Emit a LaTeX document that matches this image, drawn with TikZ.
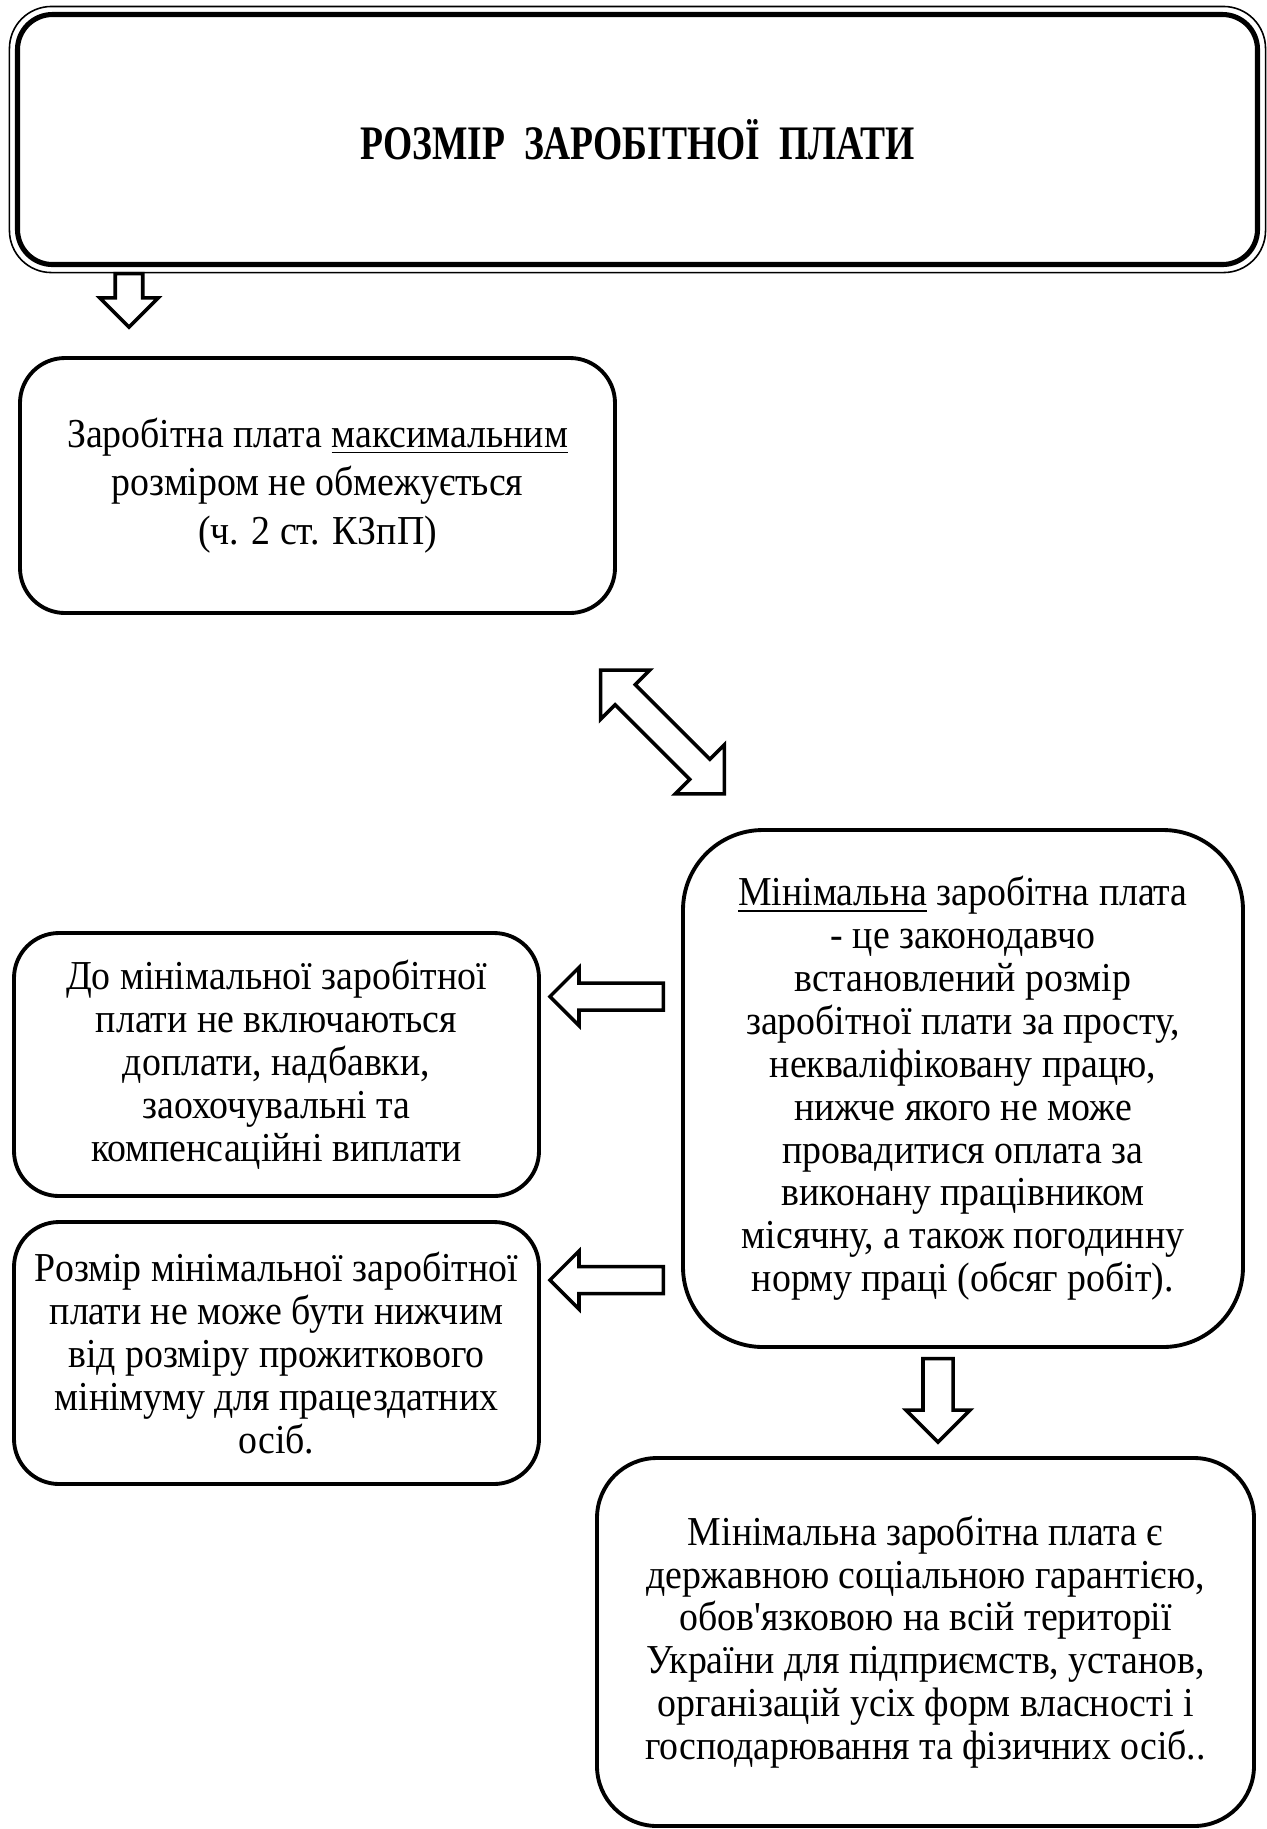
\documentclass[tikz,border=0pt]{standalone}
\usepackage{fontspec}
\setmainfont[FakeStretch=0.92]{Liberation Serif}
\newfontfamily\titlefont[FakeStretch=0.78]{Liberation Serif}
\usetikzlibrary{fit,shapes.arrows}

\begin{document}
\begin{tikzpicture}[
    font=\fontsize{11.7}{12.2}\selectfont,
    box/.style={draw, line width=1.1pt, rounded corners=0.45cm, align=center, inner sep=0pt},
    blockarrow/.style={draw, line width=1pt, fill=white, single arrow, anchor=tip, inner xsep=0pt,
      inner ysep=0.12cm, single arrow head extend=0.155cm}
  ]
    \useasboundingbox (0,0) rectangle (12.66,-18.29);

    \node[box, line width=1.45pt, rounded corners=0.35cm, minimum width=12.4cm, minimum height=2.5cm,
      font=\titlefont\bfseries\fontsize{13.7}{15}\selectfont] (title) at (6.375,-1.395) {РОЗМІР\ \ ЗАРОБІТНОЇ\ \ ПЛАТИ};
    \node[draw, line width=0.45pt, rounded corners=0.42cm, fit=(title), inner sep=0.055cm] (titleframe) {};

    \node[box, minimum width=5.95cm, minimum height=2.55cm, font=\fontsize{11.7}{13.8}\selectfont] (maxbox) at (3.175,-4.855) {Заробітна плата \underline{максимальним}\\розміром не обмежується\\(ч. 2 ст. КЗпП)};
    \node[box, rounded corners=0.8cm, minimum width=5.6cm, minimum height=5.17cm] (defbox) at (9.63,-10.885) {\underline{Мінімальна} заробітна плата\\- це законодавчо\\встановлений розмір\\заробітної плати за просту,\\некваліфіковану працю,\\нижче якого не може\\провадитися оплата за\\виконану працівником\\місячну, а також погодинну\\норму праці (обсяг робіт).};
    \node[box, minimum width=5.25cm, minimum height=2.63cm] (incbox) at (2.765,-10.645) {До мінімальної заробітної\\плати не включаються\\доплати, надбавки,\\заохочувальні та\\компенсаційні виплати};
    \node[box, minimum width=5.25cm, minimum height=2.62cm] (minbox) at (2.765,-13.53) {Розмір мінімальної заробітної\\плати не може бути нижчим\\від розміру прожиткового\\мінімуму для працездатних\\осіб.};
    \node[box, rounded corners=0.6cm, minimum width=6.57cm, minimum height=3.68cm] (garbox) at (9.255,-16.42) {Мінімальна заробітна плата є\\державною соціальною гарантією,\\обов\textquotesingle язковою на всій території\\України для підприємств, установ,\\організацій усіх форм власності і\\господарювання та фізичних осіб..};

    % block arrows
    \node[blockarrow, rotate=-90, minimum height=0.535cm] (downa) at (1.29,-3.295) {};
    \node[draw, line width=1pt, fill=white, double arrow, rotate=-45, inner xsep=0pt, inner ysep=0.125cm,
      double arrow head extend=0.205cm, minimum height=1.75cm] (linkarrow) at (6.625,-7.32) {};
    \node[blockarrow, rotate=180, inner ysep=0.1175cm, minimum height=1.135cm] (inca) at (5.475,-9.965) {};
    \node[blockarrow, rotate=180, inner ysep=0.1175cm, minimum height=1.135cm] (mina) at (5.475,-12.80) {};
    \node[blockarrow, rotate=-90, inner ysep=0.1325cm, single arrow head extend=0.17cm, minimum height=0.835cm] (downb) at (9.38,-14.445) {};
\end{tikzpicture}
\end{document}
